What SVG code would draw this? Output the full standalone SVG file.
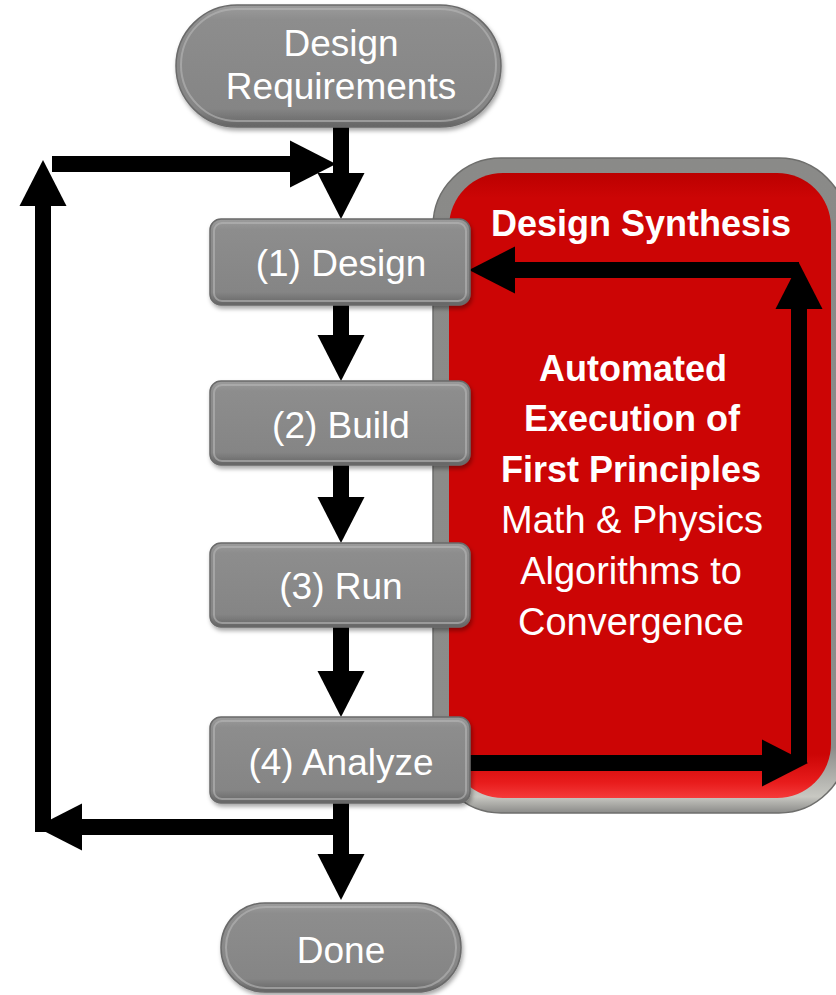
<svg xmlns="http://www.w3.org/2000/svg" width="836" height="995" viewBox="0 0 836 995">
<defs>
<linearGradient id="gNode" x1="0" y1="0" x2="0" y2="1">
<stop offset="0" stop-color="#9c9c9c"/>
<stop offset="0.12" stop-color="#8d8d8d"/>
<stop offset="0.85" stop-color="#858585"/>
<stop offset="1" stop-color="#646464"/>
</linearGradient>
<linearGradient id="gFrame" x1="0" y1="0" x2="0" y2="1">
<stop offset="0" stop-color="#8a8a88"/>
<stop offset="0.9" stop-color="#8c8c8a"/>
<stop offset="0.975" stop-color="#c8c8c2"/>
<stop offset="1" stop-color="#8a8a88"/>
</linearGradient>
<linearGradient id="gRed" x1="0" y1="0" x2="0" y2="1">
<stop offset="0" stop-color="#bb0000"/>
<stop offset="0.04" stop-color="#cc0505"/>
<stop offset="0.93" stop-color="#cc0505"/>
<stop offset="0.975" stop-color="#e81c1c"/>
<stop offset="1" stop-color="#f53a3a"/>
</linearGradient>
<filter id="shadow" x="-10%" y="-10%" width="120%" height="130%">
<feDropShadow dx="1.5" dy="3" stdDeviation="2" flood-color="#000" flood-opacity="0.35"/>
</filter>
<marker id="ah" markerUnits="userSpaceOnUse" markerWidth="48" markerHeight="48" viewBox="0 -24 48 48" refX="0" refY="0" orient="auto" overflow="visible">
<path d="M0,-23.5 L46,0 L0,23.5 Z" fill="#000"/>
</marker>
<style>
.node{fill:url(#gNode);stroke:#6a6a6a;stroke-width:1.5;filter:url(#shadow)}
.hl{fill:none;stroke:#b8b8b8;stroke-opacity:0.6;stroke-width:2}
.lbl{font-family:"Liberation Sans",Arial,sans-serif;font-size:37px;fill:#fff;text-anchor:middle}
.rb{font-family:"Liberation Sans",Arial,sans-serif;font-size:36px;font-weight:bold;fill:#fff;text-anchor:middle}
.rr{font-family:"Liberation Sans",Arial,sans-serif;font-size:38px;fill:#fff;text-anchor:middle}
.c{fill:none;stroke:#000;stroke-width:16;stroke-linecap:butt;marker-end:url(#ah)}
</style>
</defs>

<g id="synthesis">
<rect x="433" y="158" width="414" height="655" rx="68" fill="url(#gFrame)" stroke="#6e6e6c" stroke-width="1.5"/>
<rect x="449" y="173" width="382" height="625" rx="54" fill="url(#gRed)"/>
<text class="rb" x="641" y="236">Design Synthesis</text>
<text class="rb" x="633" y="381">Automated</text>
<text class="rb" x="632" y="431">Execution of</text>
<text class="rb" x="631" y="482">First Principles</text>
<text class="rr" x="632" y="533">Math &amp; Physics</text>
<text class="rr" x="631" y="584">Algorithms to</text>
<text class="rr" x="631" y="635">Convergence</text>
</g>

<g id="connectors">
<line class="c" x1="341" y1="127" x2="341" y2="173"/>
<line class="c" x1="341" y1="305" x2="341" y2="335"/>
<line class="c" x1="341" y1="465" x2="341" y2="497"/>
<line class="c" x1="341" y1="627" x2="341" y2="671"/>
<line class="c" x1="341" y1="803" x2="341" y2="854"/>
<polyline class="c" points="348,827 82,827"/>
<polyline class="c" points="43,832 43,206"/>
<polyline class="c" points="52,164 290,164"/>
<polyline class="c" points="470,763 762,763"/>
<polyline class="c" points="799,763 799,309"/>
<polyline class="c" points="799,270 515,270"/>
</g>

<g id="req">
<rect class="node" x="176" y="5" width="325" height="122" rx="61"/>
<rect class="hl" x="181" y="9" width="315" height="112" rx="56"/>
<text class="lbl" x="341" y="56">Design</text>
<text class="lbl" x="341" y="99">Requirements</text>
</g>
<g id="step1">
<rect class="node" x="210" y="219" width="260" height="86" rx="11"/>
<rect class="hl" x="214" y="223" width="252" height="78" rx="8"/>
<text class="lbl" x="341" y="276">(1) Design</text>
</g>
<g id="step2">
<rect class="node" x="210" y="381" width="260" height="84" rx="11"/>
<rect class="hl" x="214" y="385" width="252" height="76" rx="8"/>
<text class="lbl" x="341" y="438">(2) Build</text>
</g>
<g id="step3">
<rect class="node" x="210" y="543" width="260" height="84" rx="11"/>
<rect class="hl" x="214" y="547" width="252" height="76" rx="8"/>
<text class="lbl" x="341" y="599">(3) Run</text>
</g>
<g id="step4">
<rect class="node" x="210" y="717" width="260" height="86" rx="11"/>
<rect class="hl" x="214" y="721" width="252" height="78" rx="8"/>
<text class="lbl" x="341" y="775">(4) Analyze</text>
</g>
<g id="done">
<rect class="node" x="221" y="903" width="240" height="89" rx="44"/>
<rect class="hl" x="226" y="907" width="230" height="81" rx="40"/>
<text class="lbl" x="341" y="963">Done</text>
</g>
</svg>
